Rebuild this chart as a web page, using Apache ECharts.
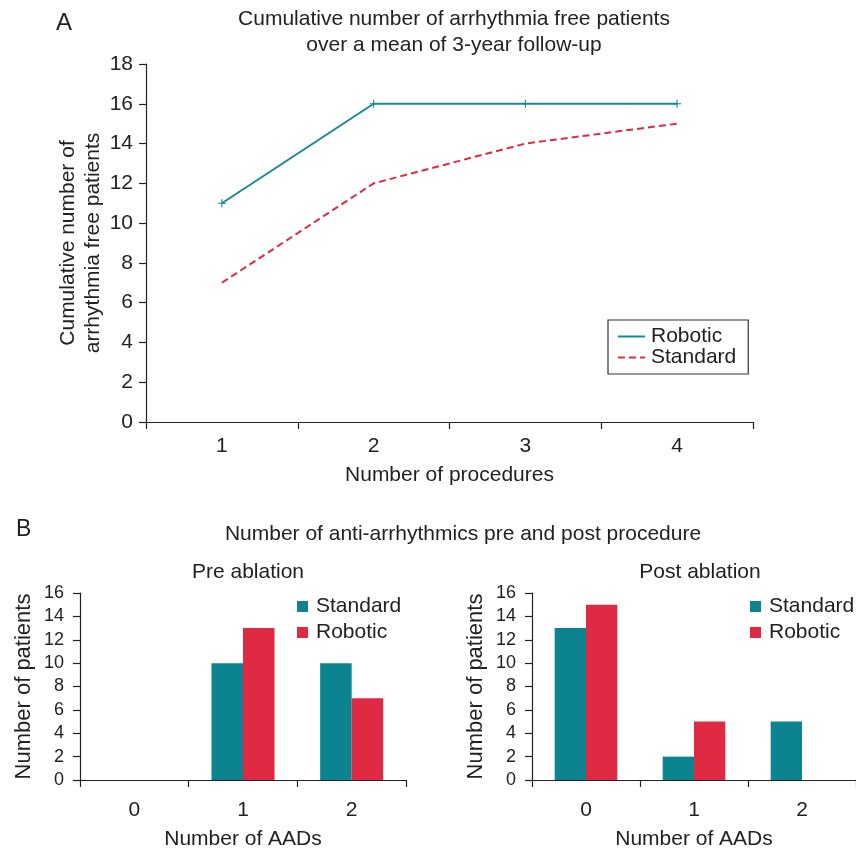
<!DOCTYPE html>
<html>
<head>
<meta charset="utf-8">
<script src="https://cdn.jsdelivr.net/npm/echarts@6/dist/echarts.min.js"></script>
<style>
  html, body { margin: 0; padding: 0; background: #fff; }
  #chart { width: 856px; height: 851px; }
</style>
</head>
<body>
<div id="chart"></div>
<script>
// panel A data
const procedures = ['1', '2', '3', '4'];
const roboticFree = [11, 16, 16, 16];
const standardFree = [7, 12, 14, 15];

// panel B data
const aads = ['0', '1', '2'];
const preStandard = [0, 10, 10];
const preRobotic = [0, 13, 7];
const postStandard = [13, 2, 5];
const postRobotic = [15, 5, 0];

const TEAL = '#0b8490';
const RED = '#e02a44';
const LINE_TEAL = '#16899a';
const FONT = 'Liberation Sans, Arial, sans-serif';
const TXT = '#222';

const chart = echarts.init(document.getElementById('chart'));

const axisLine = { show: true, lineStyle: { color: '#222', width: 1.2 } };
const tick = { show: true, inside: false, length: 7, lineStyle: { color: '#222', width: 1.2 } };

function barYAxis(gridIndex) {
  return {
    type: 'value', gridIndex: gridIndex, min: 0, max: 16, interval: 2,
    name: 'Number of patients', nameLocation: 'middle', nameRotate: 90, nameGap: 45,
    nameTextStyle: { fontSize: 22, color: TXT, fontFamily: FONT },
    axisLine: axisLine, axisTick: tick, splitLine: { show: false },
    axisLabel: { fontSize: 18, color: TXT, fontFamily: FONT, margin: 16 }
  };
}
function barXAxis(gridIndex) {
  return {
    type: 'category', gridIndex: gridIndex, data: aads,
    name: 'Number of AADs', nameLocation: 'middle', nameGap: 49,
    nameTextStyle: { fontSize: 21, color: TXT, fontFamily: FONT },
    axisLine: axisLine, axisTick: tick,
    axisLabel: { fontSize: 21, color: TXT, fontFamily: FONT, margin: 20 }
  };
}
function bar(name, data, color, idx) {
  return {
    name: name, type: 'bar', xAxisIndex: idx, yAxisIndex: idx, data: data,
    barGap: '0%', barCategoryGap: '42%', itemStyle: { color: color }
  };
}
function barLegend(left) {
  return {
    data: [
      { name: 'Standard', itemStyle: { color: TEAL } },
      { name: 'Robotic', itemStyle: { color: RED } }
    ],
    orient: 'vertical', left: left, top: 591,
    itemGap: 5, itemWidth: 11, itemHeight: 11, icon: 'rect',
    textStyle: { fontSize: 21, color: TXT, fontFamily: FONT, padding: [0, 0, 0, 3] }
  };
}

const option = {
  animation: false,
  backgroundColor: '#fff',
  textStyle: { fontFamily: FONT },
  title: [
    { text: 'A', left: 51, top: 6, textStyle: { fontSize: 24, fontWeight: 'normal', color: TXT, fontFamily: FONT } },
    { text: 'Cumulative number of arrhythmia free patients\nover a mean of 3-year follow-up', left: 449, top: 1, textAlign: 'center',
      textStyle: { fontSize: 21, fontWeight: 'normal', color: TXT, fontFamily: FONT, lineHeight: 26 } },
    { text: 'B', left: 11, top: 513, textStyle: { fontSize: 23, fontWeight: 'normal', color: TXT, fontFamily: FONT } },
    { text: 'Number of anti-arrhythmics pre and post procedure', left: 458, top: 519, textAlign: 'center',
      textStyle: { fontSize: 21, fontWeight: 'normal', color: TXT, fontFamily: FONT } },
    { text: 'Pre ablation', left: 243, top: 557, textAlign: 'center',
      textStyle: { fontSize: 21, fontWeight: 'normal', color: TXT, fontFamily: FONT } },
    { text: 'Post ablation', left: 695, top: 557, textAlign: 'center',
      textStyle: { fontSize: 21, fontWeight: 'normal', color: TXT, fontFamily: FONT } }
  ],
  legend: [
    {
      data: [
        { name: 'Robotic', itemStyle: { opacity: 0 }, lineStyle: { color: LINE_TEAL } },
        { name: 'Standard', itemStyle: { opacity: 0 }, lineStyle: { color: RED } }
      ],
      orient: 'vertical', left: 608, top: 320,
      padding: [6, 12, 6, 9], itemGap: 0, itemWidth: 27, itemHeight: 22,
      borderColor: '#333', borderWidth: 1.2,
      textStyle: { fontSize: 21, color: TXT, fontFamily: FONT, padding: [0, 0, 0, 1] }
    },
    barLegend(292),
    barLegend(745)
  ],
  grid: [
    { left: 146, top: 64, width: 607, height: 358 },
    { left: 80, top: 593, width: 326, height: 194 },
    { left: 532, top: 593, width: 325, height: 194 }
  ],
  xAxis: [
    {
      type: 'category', gridIndex: 0, data: procedures,
      name: 'Number of procedures', nameLocation: 'middle', nameGap: 43,
      nameTextStyle: { fontSize: 21, color: TXT, fontFamily: FONT },
      axisLine: axisLine, axisTick: tick,
      axisLabel: { fontSize: 21, color: TXT, fontFamily: FONT, margin: 14 }
    },
    barXAxis(1),
    barXAxis(2)
  ],
  yAxis: [
    {
      type: 'value', gridIndex: 0, min: 0, max: 18, interval: 2,
      name: 'Cumulative number of\narrhythmia free patients', nameLocation: 'middle', nameRotate: 90, nameGap: 40,
      nameMoveOverlap: false,
      nameTextStyle: { fontSize: 21, color: TXT, fontFamily: FONT, lineHeight: 25 },
      axisLine: axisLine, axisTick: tick, splitLine: { show: false },
      axisLabel: { fontSize: 21, color: TXT, fontFamily: FONT, margin: 13 }
    },
    barYAxis(1),
    barYAxis(2)
  ],
  series: [
    {
      name: 'Robotic', type: 'line', xAxisIndex: 0, yAxisIndex: 0, data: roboticFree,
      symbol: 'path://M4.3,0H5.7V4.3H10V5.7H5.7V10H4.3V5.7H0V4.3H4.3Z', symbolSize: 8,
      lineStyle: { color: LINE_TEAL, width: 2 }, itemStyle: { color: LINE_TEAL }
    },
    {
      name: 'Standard', type: 'line', xAxisIndex: 0, yAxisIndex: 0, data: standardFree,
      symbol: 'none',
      lineStyle: { color: RED, width: 2, type: [7, 4] }, itemStyle: { color: RED }
    },
    bar('Standard', preStandard, TEAL, 1),
    bar('Robotic', preRobotic, RED, 1),
    bar('Standard', postStandard, TEAL, 2),
    bar('Robotic', postRobotic, RED, 2)
  ]
};

chart.setOption(option);
</script>
</body>
</html>
